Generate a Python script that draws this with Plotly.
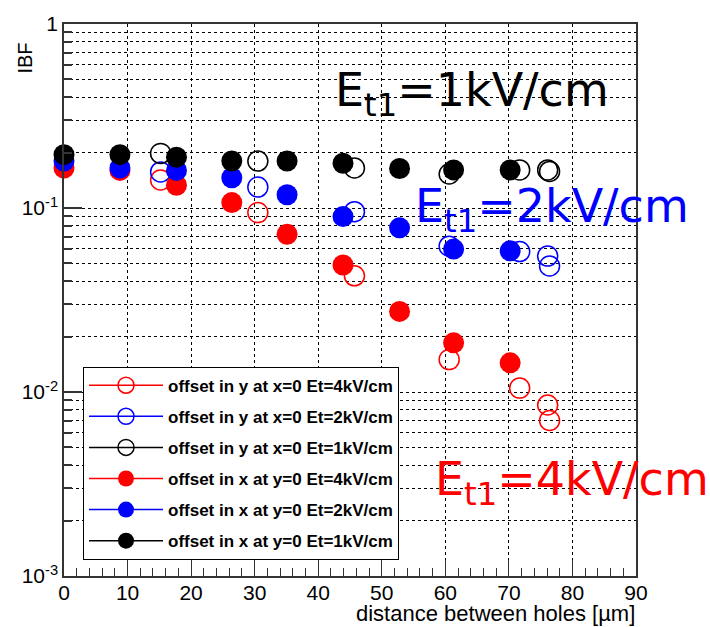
import plotly.graph_objects as go

# Distances between holes [um] and IBF values
x_yoffset = [15.2, 30.5, 45.7, 60.6, 71.7, 76.1, 76.4]
ibf_y_4kV = [0.142, 0.0944, 0.0428, 0.0150, 0.0105, 0.0085, 0.0070]
ibf_y_2kV = [0.157, 0.130, 0.0955, 0.0620, 0.0580, 0.0548, 0.0484]
ibf_y_1kV = [0.198, 0.180, 0.165, 0.153, 0.161, 0.161, 0.158]

x_xoffset = [0.0, 8.8, 17.7, 26.4, 35.1, 43.9, 52.8, 61.3, 70.2]
ibf_x_4kV = [0.165, 0.160, 0.133, 0.107, 0.072, 0.049, 0.0274, 0.0185, 0.0144]
ibf_x_2kV = [0.180, 0.165, 0.160, 0.146, 0.118, 0.0898, 0.078, 0.0598, 0.0585]
ibf_x_1kV = [0.195, 0.195, 0.189, 0.180, 0.180, 0.175, 0.164, 0.161, 0.161]

series = [
    ("offset in y at x=0 Et=4kV/cm", x_yoffset, ibf_y_4kV, "#ff0000", True),
    ("offset in y at x=0 Et=2kV/cm", x_yoffset, ibf_y_2kV, "#0000ff", True),
    ("offset in y at x=0 Et=1kV/cm", x_yoffset, ibf_y_1kV, "#000000", True),
    ("offset in x at y=0 Et=4kV/cm", x_xoffset, ibf_x_4kV, "#ff0000", False),
    ("offset in x at y=0 Et=2kV/cm", x_xoffset, ibf_x_2kV, "#0000ff", False),
    ("offset in x at y=0 Et=1kV/cm", x_xoffset, ibf_x_1kV, "#000000", False),
]

W, H = 710, 627
L, R, T, B = 64, 74, 17, 51
PW, PH = W - L - R, H - T - B


def fx(p):
    return (p - L) / PW


def fy(p):
    return (H - B - p) / PH


fig = go.Figure()

for i, (name, xs, ys, col, is_open) in enumerate(series):
    if is_open:
        marker = dict(symbol="circle-open", size=20, color=col, line=dict(width=1.5, color=col))
    else:
        marker = dict(symbol="circle", size=21, color=col, line=dict(width=0))
    fig.add_trace(go.Scatter(x=xs, y=ys, mode="markers", marker=marker, cliponaxis=False,
                             showlegend=False, hoverinfo="x+y"))

# legend entries (line through marker)
for i, (name, xs, ys, col, is_open) in enumerate(series):
    if is_open:
        marker = dict(symbol="circle-open", size=16, color=col, line=dict(width=1.5, color=col))
    else:
        marker = dict(symbol="circle", size=16, color=col, line=dict(width=0))
    fig.add_trace(go.Scatter(x=[None], y=[None], mode="lines+markers", name=name,
                             marker=marker, line=dict(color=col, width=1.5),
                             legendgroup=f"g{i}", showlegend=True))

tick_font = dict(family="Liberation Sans, Arial", size=21, color="black")

fig.update_xaxes(
    range=[0, 90], tickvals=list(range(0, 100, 10)),
    ticks="inside", ticklen=16, tickwidth=1, tickcolor="#333",
    minor=dict(dtick=2, ticks="inside", ticklen=8, tickwidth=1, tickcolor="#333", showgrid=False),
    showgrid=True, gridcolor="black", griddash="dot", gridwidth=1,
    showline=True, linecolor="#333", linewidth=1.5, mirror=True,
    zeroline=False, tickfont=tick_font, ticklabelstandoff=-3,
)
fig.update_yaxes(
    type="log", range=[-3, 0],
    tickvals=[0.001, 0.01, 0.1, 1],
    ticktext=["10<sup>-3</sup>", "10<sup>-2</sup>", "10<sup>-1</sup>", "1"],
    ticks="inside", ticklen=18, tickwidth=1.5, tickcolor="#333",
    minor=dict(dtick="D1", ticks="inside", ticklen=8, tickwidth=1.5, tickcolor="#333",
               showgrid=True, gridcolor="black", griddash="dot", gridwidth=1),
    showgrid=True, gridcolor="black", griddash="dot", gridwidth=1,
    showline=True, linecolor="#333", linewidth=1.5, mirror=True,
    zeroline=False, tickfont=tick_font,
)

ann_font = "DejaVu Sans"
fig.add_annotation(text="E<sub>t1</sub>=1kV/cm", xref="paper", yref="paper",
                   x=fx(333), y=fy(87), xanchor="left", yanchor="middle", showarrow=False,
                   font=dict(family=ann_font, size=46, color="black"))
fig.add_annotation(text="E<sub>t1</sub>=2kV/cm", xref="paper", yref="paper",
                   x=fx(413), y=fy(205), xanchor="left", yanchor="middle", showarrow=False,
                   font=dict(family=ann_font, size=46, color="#0000ff"))
fig.add_annotation(text="E<sub>t1</sub>=4kV/cm", xref="paper", yref="paper",
                   x=fx(433), y=fy(481), xanchor="left", yanchor="middle", showarrow=False,
                   font=dict(family=ann_font, size=46, color="#ff0000"))

# axis titles
fig.add_annotation(text="IBF", xref="paper", yref="paper", x=fx(25), y=fy(52),
                   xanchor="center", yanchor="middle", textangle=-90, showarrow=False,
                   font=dict(family="Liberation Sans", size=20, color="black"))
fig.add_annotation(text="distance between holes [µm]", xref="paper", yref="paper",
                   x=fx(637), y=fy(614), xanchor="right", yanchor="middle", showarrow=False,
                   font=dict(family="Liberation Sans", size=22, color="black"))

fig.update_layout(
    width=W, height=H,
    margin=dict(l=L, r=R, t=T, b=B),
    paper_bgcolor="white", plot_bgcolor="white",
    legend=dict(x=fx(83), y=fy(364), xanchor="left", yanchor="top",
                bgcolor="white", bordercolor="black", borderwidth=1,
                font=dict(family="Liberation Sans", size=17, color="black", weight="bold"),
                tracegroupgap=6, itemwidth=74, traceorder="grouped"),
    showlegend=True,
)

fig.write_html("out.html")
